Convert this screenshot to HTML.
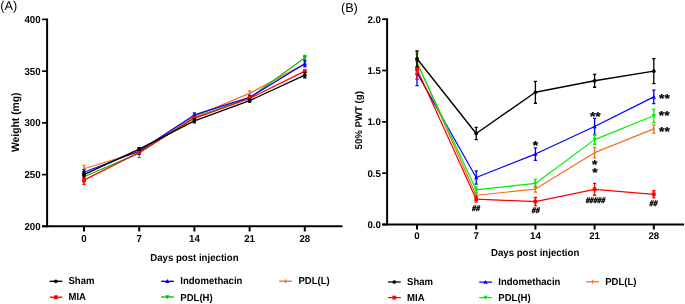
<!DOCTYPE html>
<html><head><meta charset="utf-8"><style>
html,body{margin:0;padding:0;background:#fff;}
body{width:685px;height:304px;overflow:hidden;}
svg{display:block;will-change:transform;}
text{font-family:"Liberation Sans",sans-serif;text-rendering:geometricPrecision;fill:#000;}
.tk{font-size:9.7px;font-weight:bold;}
.tt{font-size:9.63px;font-weight:bold;}
.ttA{font-size:10.35px;font-weight:bold;}
.lg{font-size:9.55px;font-weight:bold;}
.pl{font-size:12.73px;}
.an{font-size:13.8px;font-weight:bold;}
.hs{font-size:7px;font-weight:bold;font-style:italic;}
</style></head><body>
<svg width="685" height="304" viewBox="0 0 685 304">
<rect width="685" height="304" fill="#fff"/>
<text transform="translate(0.28 10.10)" class="pl">(A)</text>
<line x1="47.1" y1="18.55" x2="47.1" y2="227.20" stroke="#000" stroke-width="2"/>
<line x1="42.1" y1="226.35" x2="342.5" y2="226.35" stroke="#000" stroke-width="2"/>
<line x1="42.1" y1="226.35" x2="47.1" y2="226.35" stroke="#000" stroke-width="1.7"/>
<text transform="translate(40.60 229.95) scale(1.0 1.04)" text-anchor="end" class="tk">200</text>
<line x1="42.1" y1="174.61" x2="47.1" y2="174.61" stroke="#000" stroke-width="1.7"/>
<text transform="translate(40.60 178.21) scale(1.0 1.04)" text-anchor="end" class="tk">250</text>
<line x1="42.1" y1="122.88" x2="47.1" y2="122.88" stroke="#000" stroke-width="1.7"/>
<text transform="translate(40.60 126.47) scale(1.0 1.04)" text-anchor="end" class="tk">300</text>
<line x1="42.1" y1="71.14" x2="47.1" y2="71.14" stroke="#000" stroke-width="1.7"/>
<text transform="translate(40.60 74.74) scale(1.0 1.04)" text-anchor="end" class="tk">350</text>
<line x1="42.1" y1="19.40" x2="47.1" y2="19.40" stroke="#000" stroke-width="1.7"/>
<text transform="translate(40.60 23.00) scale(1.0 1.04)" text-anchor="end" class="tk">400</text>
<line x1="84.00" y1="226.35" x2="84.00" y2="231.45" stroke="#000" stroke-width="2"/>
<text transform="translate(84.00 241.60) scale(1.0 1.04)" text-anchor="middle" class="tk">0</text>
<line x1="139.20" y1="226.35" x2="139.20" y2="231.45" stroke="#000" stroke-width="2"/>
<text transform="translate(139.20 241.60) scale(1.0 1.04)" text-anchor="middle" class="tk">7</text>
<line x1="194.40" y1="226.35" x2="194.40" y2="231.45" stroke="#000" stroke-width="2"/>
<text transform="translate(194.40 241.60) scale(1.0 1.04)" text-anchor="middle" class="tk">14</text>
<line x1="249.60" y1="226.35" x2="249.60" y2="231.45" stroke="#000" stroke-width="2"/>
<text transform="translate(249.60 241.60) scale(1.0 1.04)" text-anchor="middle" class="tk">21</text>
<line x1="304.80" y1="226.35" x2="304.80" y2="231.45" stroke="#000" stroke-width="2"/>
<text transform="translate(304.80 241.60) scale(1.0 1.04)" text-anchor="middle" class="tk">28</text>
<text transform="translate(194.40 261.20) scale(1.0 1.05)" text-anchor="middle" class="tt">Days post injection</text>
<text transform="translate(19.20 122.25) rotate(-90) scale(1.0 1.04)" text-anchor="middle" class="ttA">Weight (mg)</text>
<text transform="translate(340.90 12.10)" class="pl">(B)</text>
<line x1="387.1" y1="18.35" x2="387.1" y2="225.35" stroke="#000" stroke-width="2"/>
<line x1="382.1" y1="224.5" x2="684.1" y2="224.5" stroke="#000" stroke-width="2"/>
<line x1="382.1" y1="224.50" x2="387.1" y2="224.50" stroke="#000" stroke-width="1.7"/>
<text transform="translate(380.90 228.10)" text-anchor="end" class="tk">0.0</text>
<line x1="382.1" y1="173.18" x2="387.1" y2="173.18" stroke="#000" stroke-width="1.7"/>
<text transform="translate(380.90 176.78)" text-anchor="end" class="tk">0.5</text>
<line x1="382.1" y1="121.85" x2="387.1" y2="121.85" stroke="#000" stroke-width="1.7"/>
<text transform="translate(380.90 125.45)" text-anchor="end" class="tk">1.0</text>
<line x1="382.1" y1="70.52" x2="387.1" y2="70.52" stroke="#000" stroke-width="1.7"/>
<text transform="translate(380.90 74.12)" text-anchor="end" class="tk">1.5</text>
<line x1="382.1" y1="19.20" x2="387.1" y2="19.20" stroke="#000" stroke-width="1.7"/>
<text transform="translate(380.90 22.80)" text-anchor="end" class="tk">2.0</text>
<line x1="417.00" y1="224.5" x2="417.00" y2="229.6" stroke="#000" stroke-width="2"/>
<text transform="translate(417.00 239.30)" text-anchor="middle" class="tk">0</text>
<line x1="476.20" y1="224.5" x2="476.20" y2="229.6" stroke="#000" stroke-width="2"/>
<text transform="translate(476.20 239.30)" text-anchor="middle" class="tk">7</text>
<line x1="535.40" y1="224.5" x2="535.40" y2="229.6" stroke="#000" stroke-width="2"/>
<text transform="translate(535.40 239.30)" text-anchor="middle" class="tk">14</text>
<line x1="594.60" y1="224.5" x2="594.60" y2="229.6" stroke="#000" stroke-width="2"/>
<text transform="translate(594.60 239.30)" text-anchor="middle" class="tk">21</text>
<line x1="653.80" y1="224.5" x2="653.80" y2="229.6" stroke="#000" stroke-width="2"/>
<text transform="translate(653.80 239.30)" text-anchor="middle" class="tk">28</text>
<text transform="translate(535.15 256.20) scale(1.0 1.05)" text-anchor="middle" class="tt">Days post injection</text>
<text transform="translate(361.50 120.30) rotate(-90) scale(1.0 1.02)" text-anchor="middle" class="tt">50% PWT (g)</text>
<path d="M84.00 165.30V172.13M82.40 165.30h3.2M82.40 172.13h3.2" stroke="#f36f21" stroke-width="1.3" fill="none"/>
<path d="M139.20 149.78V153.92M137.60 149.78h3.2M137.60 153.92h3.2" stroke="#f36f21" stroke-width="1.3" fill="none"/>
<path d="M194.40 114.29V118.43M192.80 114.29h3.2M192.80 118.43h3.2" stroke="#f36f21" stroke-width="1.3" fill="none"/>
<path d="M249.60 90.80V95.97M248.00 90.80h3.2M248.00 95.97h3.2" stroke="#f36f21" stroke-width="1.3" fill="none"/>
<path d="M304.80 62.34V65.45M303.20 62.34h3.2M303.20 65.45h3.2" stroke="#f36f21" stroke-width="1.3" fill="none"/>
<polyline points="84.00,168.71 139.20,151.85 194.40,116.36 249.60,93.38 304.80,63.89" fill="none" stroke="#f36f21" stroke-width="1.2" stroke-linejoin="round"/>
<line x1="84.00" y1="166.91" x2="84.00" y2="170.51" stroke="#f36f21" stroke-width="1.3"/>
<line x1="139.20" y1="150.05" x2="139.20" y2="153.65" stroke="#f36f21" stroke-width="1.3"/>
<line x1="194.40" y1="114.56" x2="194.40" y2="118.16" stroke="#f36f21" stroke-width="1.3"/>
<line x1="249.60" y1="91.58" x2="249.60" y2="95.18" stroke="#f36f21" stroke-width="1.3"/>
<line x1="304.80" y1="62.09" x2="304.80" y2="65.69" stroke="#f36f21" stroke-width="1.3"/>
<path d="M84.00 171.51V181.86M82.40 171.51h3.2M82.40 181.86h3.2" stroke="#00c000" stroke-width="1.3" fill="none"/>
<path d="M139.20 148.54V157.64M137.60 148.54h3.2M137.60 157.64h3.2" stroke="#00c000" stroke-width="1.3" fill="none"/>
<path d="M194.40 115.22V119.36M192.80 115.22h3.2M192.80 119.36h3.2" stroke="#00c000" stroke-width="1.3" fill="none"/>
<path d="M249.60 95.97V100.11M248.00 95.97h3.2M248.00 100.11h3.2" stroke="#00c000" stroke-width="1.3" fill="none"/>
<path d="M304.80 55.41V59.96M303.20 55.41h3.2M303.20 59.96h3.2" stroke="#00c000" stroke-width="1.3" fill="none"/>
<polyline points="84.00,176.68 139.20,153.09 194.40,117.29 249.60,98.04 304.80,57.69" fill="none" stroke="#00c000" stroke-width="1.2" stroke-linejoin="round"/>
<polygon points="84.00,178.88 86.20,174.92 81.80,174.92" fill="#00c000"/>
<polygon points="139.20,155.29 141.40,151.33 137.00,151.33" fill="#00c000"/>
<polygon points="194.40,119.49 196.60,115.53 192.20,115.53" fill="#00c000"/>
<polygon points="249.60,100.24 251.80,96.28 247.40,96.28" fill="#00c000"/>
<polygon points="304.80,59.89 307.00,55.93 302.60,55.93" fill="#00c000"/>
<path d="M84.00 169.65V174.82M82.40 169.65h3.2M82.40 174.82h3.2" stroke="#0000ff" stroke-width="1.3" fill="none"/>
<path d="M139.20 147.61V154.43M137.60 147.61h3.2M137.60 154.43h3.2" stroke="#0000ff" stroke-width="1.3" fill="none"/>
<path d="M194.40 112.84V116.98M192.80 112.84h3.2M192.80 116.98h3.2" stroke="#0000ff" stroke-width="1.3" fill="none"/>
<path d="M249.60 95.35V99.49M248.00 95.35h3.2M248.00 99.49h3.2" stroke="#0000ff" stroke-width="1.3" fill="none"/>
<path d="M304.80 60.58V66.79M303.20 60.58h3.2M303.20 66.79h3.2" stroke="#0000ff" stroke-width="1.3" fill="none"/>
<polyline points="84.00,172.23 139.20,151.02 194.40,114.91 249.60,97.42 304.80,63.69" fill="none" stroke="#0000ff" stroke-width="1.2" stroke-linejoin="round"/>
<polygon points="84.00,170.03 86.20,173.99 81.80,173.99" fill="#0000ff"/>
<polygon points="139.20,148.82 141.40,152.78 137.00,152.78" fill="#0000ff"/>
<polygon points="194.40,112.71 196.60,116.67 192.20,116.67" fill="#0000ff"/>
<polygon points="249.60,95.22 251.80,99.18 247.40,99.18" fill="#0000ff"/>
<polygon points="304.80,61.49 307.00,65.45 302.60,65.45" fill="#0000ff"/>
<path d="M84.00 175.96V184.24M82.40 175.96h3.2M82.40 184.24h3.2" stroke="#ff0000" stroke-width="1.3" fill="none"/>
<path d="M139.20 151.23V153.71M137.60 151.23h3.2M137.60 153.71h3.2" stroke="#ff0000" stroke-width="1.3" fill="none"/>
<path d="M194.40 116.25V120.39M192.80 116.25h3.2M192.80 120.39h3.2" stroke="#ff0000" stroke-width="1.3" fill="none"/>
<path d="M249.60 96.49V100.63M248.00 96.49h3.2M248.00 100.63h3.2" stroke="#ff0000" stroke-width="1.3" fill="none"/>
<path d="M304.80 70.10V72.17M303.20 70.10h3.2M303.20 72.17h3.2" stroke="#ff0000" stroke-width="1.3" fill="none"/>
<polyline points="84.00,180.10 139.20,152.47 194.40,118.32 249.60,98.56 304.80,71.14" fill="none" stroke="#ff0000" stroke-width="1.2" stroke-linejoin="round"/>
<rect x="82.10" y="178.20" width="3.80" height="3.80" fill="#ff0000"/>
<rect x="137.30" y="150.57" width="3.80" height="3.80" fill="#ff0000"/>
<rect x="192.50" y="116.42" width="3.80" height="3.80" fill="#ff0000"/>
<rect x="247.70" y="96.66" width="3.80" height="3.80" fill="#ff0000"/>
<rect x="302.90" y="69.24" width="3.80" height="3.80" fill="#ff0000"/>
<path d="M84.00 172.03V177.20M82.40 172.03h3.2M82.40 177.20h3.2" stroke="#000000" stroke-width="1.3" fill="none"/>
<path d="M139.20 148.23V150.09M137.60 148.23h3.2M137.60 150.09h3.2" stroke="#000000" stroke-width="1.3" fill="none"/>
<path d="M194.40 118.74V122.88M192.80 118.74h3.2M192.80 122.88h3.2" stroke="#000000" stroke-width="1.3" fill="none"/>
<path d="M249.60 99.08V102.18M248.00 99.08h3.2M248.00 102.18h3.2" stroke="#000000" stroke-width="1.3" fill="none"/>
<path d="M304.80 72.59V77.76M303.20 72.59h3.2M303.20 77.76h3.2" stroke="#000000" stroke-width="1.3" fill="none"/>
<polyline points="84.00,174.61 139.20,149.16 194.40,120.81 249.60,100.63 304.80,75.17" fill="none" stroke="#000000" stroke-width="1.3" stroke-linejoin="round"/>
<circle cx="84.00" cy="174.61" r="1.85" fill="#000000"/>
<circle cx="139.20" cy="149.16" r="1.85" fill="#000000"/>
<circle cx="194.40" cy="120.81" r="1.85" fill="#000000"/>
<circle cx="249.60" cy="100.63" r="1.85" fill="#000000"/>
<circle cx="304.80" cy="75.17" r="1.85" fill="#000000"/>
<path d="M417.00 60.16V85.61M415.40 60.16h3.2M415.40 85.61h3.2" stroke="#0000ff" stroke-width="1.3" fill="none"/>
<path d="M476.20 170.81V184.16M474.60 170.81h3.2M474.60 184.16h3.2" stroke="#0000ff" stroke-width="1.3" fill="none"/>
<path d="M535.40 147.82V160.34M533.80 147.82h3.2M533.80 160.34h3.2" stroke="#0000ff" stroke-width="1.3" fill="none"/>
<path d="M594.60 118.46V134.48M593.00 118.46h3.2M593.00 134.48h3.2" stroke="#0000ff" stroke-width="1.3" fill="none"/>
<path d="M653.80 90.13V103.68M652.20 90.13h3.2M652.20 103.68h3.2" stroke="#0000ff" stroke-width="1.3" fill="none"/>
<polyline points="417.00,72.89 476.20,177.49 535.40,154.08 594.60,126.47 653.80,96.91" fill="none" stroke="#0000ff" stroke-width="1.2" stroke-linejoin="round"/>
<polygon points="417.00,70.69 419.20,74.65 414.80,74.65" fill="#0000ff"/>
<polygon points="476.20,175.29 478.40,179.25 474.00,179.25" fill="#0000ff"/>
<polygon points="535.40,151.88 537.60,155.84 533.20,155.84" fill="#0000ff"/>
<polygon points="594.60,124.27 596.80,128.23 592.40,128.23" fill="#0000ff"/>
<polygon points="653.80,94.71 656.00,98.67 651.60,98.67" fill="#0000ff"/>
<path d="M417.00 52.05V72.58M415.40 52.05h3.2M415.40 72.58h3.2" stroke="#f36f21" stroke-width="1.3" fill="none"/>
<path d="M476.20 193.19V197.30M474.60 193.19h3.2M474.60 197.30h3.2" stroke="#f36f21" stroke-width="1.3" fill="none"/>
<path d="M535.40 186.01V192.17M533.80 186.01h3.2M533.80 192.17h3.2" stroke="#f36f21" stroke-width="1.3" fill="none"/>
<path d="M594.60 147.51V157.78M593.00 147.51h3.2M593.00 157.78h3.2" stroke="#f36f21" stroke-width="1.3" fill="none"/>
<path d="M653.80 124.83V133.04M652.20 124.83h3.2M652.20 133.04h3.2" stroke="#f36f21" stroke-width="1.3" fill="none"/>
<polyline points="417.00,62.31 476.20,195.24 535.40,189.09 594.60,152.64 653.80,128.93" fill="none" stroke="#f36f21" stroke-width="1.2" stroke-linejoin="round"/>
<line x1="417.00" y1="60.51" x2="417.00" y2="64.11" stroke="#f36f21" stroke-width="1.3"/>
<line x1="476.20" y1="193.44" x2="476.20" y2="197.04" stroke="#f36f21" stroke-width="1.3"/>
<line x1="535.40" y1="187.29" x2="535.40" y2="190.89" stroke="#f36f21" stroke-width="1.3"/>
<line x1="594.60" y1="150.84" x2="594.60" y2="154.44" stroke="#f36f21" stroke-width="1.3"/>
<line x1="653.80" y1="127.13" x2="653.80" y2="130.73" stroke="#f36f21" stroke-width="1.3"/>
<path d="M417.00 54.31V70.73M415.40 54.31h3.2M415.40 70.73h3.2" stroke="#00ee00" stroke-width="1.3" fill="none"/>
<path d="M476.20 186.83V192.99M474.60 186.83h3.2M474.60 192.99h3.2" stroke="#00ee00" stroke-width="1.3" fill="none"/>
<path d="M535.40 179.33V187.55M533.80 179.33h3.2M533.80 187.55h3.2" stroke="#00ee00" stroke-width="1.3" fill="none"/>
<path d="M594.60 134.99V144.23M593.00 134.99h3.2M593.00 144.23h3.2" stroke="#00ee00" stroke-width="1.3" fill="none"/>
<path d="M653.80 109.12V122.47M652.20 109.12h3.2M652.20 122.47h3.2" stroke="#00ee00" stroke-width="1.3" fill="none"/>
<polyline points="417.00,62.52 476.20,189.91 535.40,183.44 594.60,139.61 653.80,115.79" fill="none" stroke="#00ee00" stroke-width="1.2" stroke-linejoin="round"/>
<polygon points="417.00,64.72 419.20,60.76 414.80,60.76" fill="#00ee00"/>
<polygon points="476.20,192.11 478.40,188.15 474.00,188.15" fill="#00ee00"/>
<polygon points="535.40,185.64 537.60,181.68 533.20,181.68" fill="#00ee00"/>
<polygon points="594.60,141.81 596.80,137.85 592.40,137.85" fill="#00ee00"/>
<polygon points="653.80,117.99 656.00,114.03 651.60,114.03" fill="#00ee00"/>
<path d="M417.00 58.72V79.25M415.40 58.72h3.2M415.40 79.25h3.2" stroke="#ff0000" stroke-width="1.3" fill="none"/>
<path d="M476.20 196.07V202.22M474.60 196.07h3.2M474.60 202.22h3.2" stroke="#ff0000" stroke-width="1.3" fill="none"/>
<path d="M535.40 197.50V205.72M533.80 197.50h3.2M533.80 205.72h3.2" stroke="#ff0000" stroke-width="1.3" fill="none"/>
<path d="M594.60 183.34V195.24M593.00 183.34h3.2M593.00 195.24h3.2" stroke="#ff0000" stroke-width="1.3" fill="none"/>
<path d="M653.80 190.73V197.91M652.20 190.73h3.2M652.20 197.91h3.2" stroke="#ff0000" stroke-width="1.3" fill="none"/>
<polyline points="417.00,68.99 476.20,199.15 535.40,201.61 594.60,189.29 653.80,194.32" fill="none" stroke="#ff0000" stroke-width="1.2" stroke-linejoin="round"/>
<rect x="415.10" y="67.09" width="3.80" height="3.80" fill="#ff0000"/>
<rect x="474.30" y="197.25" width="3.80" height="3.80" fill="#ff0000"/>
<rect x="533.50" y="199.71" width="3.80" height="3.80" fill="#ff0000"/>
<rect x="592.70" y="187.39" width="3.80" height="3.80" fill="#ff0000"/>
<rect x="651.90" y="192.42" width="3.80" height="3.80" fill="#ff0000"/>
<path d="M417.00 50.82V66.62M415.40 50.82h3.2M415.40 66.62h3.2" stroke="#000000" stroke-width="1.3" fill="none"/>
<path d="M476.20 127.29V139.61M474.60 127.29h3.2M474.60 139.61h3.2" stroke="#000000" stroke-width="1.3" fill="none"/>
<path d="M535.40 81.30V103.27M533.80 81.30h3.2M533.80 103.27h3.2" stroke="#000000" stroke-width="1.3" fill="none"/>
<path d="M594.60 74.32V87.26M593.00 74.32h3.2M593.00 87.26h3.2" stroke="#000000" stroke-width="1.3" fill="none"/>
<path d="M653.80 58.62V83.66M652.20 58.62h3.2M652.20 83.66h3.2" stroke="#000000" stroke-width="1.3" fill="none"/>
<polyline points="417.00,58.72 476.20,133.45 535.40,92.29 594.60,80.79 653.80,71.14" fill="none" stroke="#000000" stroke-width="1.4" stroke-linejoin="round"/>
<circle cx="417.00" cy="58.72" r="1.85" fill="#000000"/>
<circle cx="476.20" cy="133.45" r="1.85" fill="#000000"/>
<circle cx="535.40" cy="92.29" r="1.85" fill="#000000"/>
<circle cx="594.60" cy="80.79" r="1.85" fill="#000000"/>
<circle cx="653.80" cy="71.14" r="1.85" fill="#000000"/>
<text transform="translate(475.75 211.35) scale(1.0 1.18) skewX(-8)" text-anchor="middle" class="hs" stroke="#000" stroke-width="0.35">##</text>
<text transform="translate(535.45 213.45) scale(1.0 1.18) skewX(-8)" text-anchor="middle" class="hs" stroke="#000" stroke-width="0.35">##</text>
<text transform="translate(595.15 202.70) scale(1.0 1.18) skewX(-8)" text-anchor="middle" class="hs" stroke="#000" stroke-width="0.35">#####</text>
<text transform="translate(653.20 205.75) scale(1.0 1.18) skewX(-8)" text-anchor="middle" class="hs" stroke="#000" stroke-width="0.35">##</text>
<text transform="translate(535.45 149.60) scale(1.0 0.95)" text-anchor="middle" class="an" stroke="#000" stroke-width="0.2">*</text>
<text transform="translate(595.35 120.95) scale(1.0 0.95)" text-anchor="middle" class="an" stroke="#000" stroke-width="0.2">**</text>
<text transform="translate(594.65 168.75) scale(1.0 0.95)" text-anchor="middle" class="an" stroke="#000" stroke-width="0.2">*</text>
<text transform="translate(594.90 177.30) scale(1.0 0.95)" text-anchor="middle" class="an" stroke="#000" stroke-width="0.2">*</text>
<text transform="translate(664.45 102.95) scale(1.0 0.95)" text-anchor="middle" class="an" stroke="#000" stroke-width="0.2">**</text>
<text transform="translate(664.20 120.40) scale(1.0 0.95)" text-anchor="middle" class="an" stroke="#000" stroke-width="0.2">**</text>
<text transform="translate(664.45 136.30) scale(1.0 0.95)" text-anchor="middle" class="an" stroke="#000" stroke-width="0.2">**</text>
<line x1="49.6" y1="281.3" x2="62.400000000000006" y2="281.3" stroke="#000000" stroke-width="1.35"/>
<circle cx="55.90" cy="281.30" r="1.85" fill="#000000"/>
<text transform="translate(68.50 284.30) scale(1.0 1.05)" class="lg">Sham</text>
<line x1="49.6" y1="297.2" x2="62.400000000000006" y2="297.2" stroke="#ff0000" stroke-width="1.35"/>
<rect x="54.00" y="295.30" width="3.80" height="3.80" fill="#ff0000"/>
<text transform="translate(68.50 300.45) scale(1.0 1.05)" class="lg">MIA</text>
<line x1="161.1" y1="281.3" x2="173.9" y2="281.3" stroke="#0000ff" stroke-width="1.35"/>
<polygon points="167.40,279.10 169.60,283.06 165.20,283.06" fill="#0000ff"/>
<text transform="translate(180.30 284.30) scale(1.0 1.05)" class="lg">Indomethacin</text>
<line x1="161.1" y1="297.0" x2="173.9" y2="297.0" stroke="#00c000" stroke-width="1.35"/>
<polygon points="167.40,299.20 169.60,295.24 165.20,295.24" fill="#00c000"/>
<text transform="translate(180.30 300.50) scale(1.0 1.05)" class="lg">PDL(H)</text>
<line x1="279.2" y1="281.2" x2="292.0" y2="281.2" stroke="#f36f21" stroke-width="1.35"/>
<line x1="285.50" y1="279.40" x2="285.50" y2="283.00" stroke="#f36f21" stroke-width="1.3"/>
<text transform="translate(298.40 284.30) scale(1.0 1.05)" class="lg">PDL(L)</text>
<line x1="388.0" y1="282.0" x2="400.8" y2="282.0" stroke="#000000" stroke-width="1.25"/>
<circle cx="394.30" cy="282.00" r="1.85" fill="#000000"/>
<text transform="translate(407.10 285.10) scale(1.0 1.05)" class="lg">Sham</text>
<line x1="388.0" y1="297.6" x2="400.8" y2="297.6" stroke="#ff0000" stroke-width="1.25"/>
<rect x="392.40" y="295.70" width="3.80" height="3.80" fill="#ff0000"/>
<text transform="translate(407.10 300.80) scale(1.0 1.05)" class="lg">MIA</text>
<line x1="479.2" y1="282.1" x2="492.0" y2="282.1" stroke="#0000ff" stroke-width="1.25"/>
<polygon points="485.50,279.90 487.70,283.86 483.30,283.86" fill="#0000ff"/>
<text transform="translate(498.30 285.30) scale(1.0 1.05)" class="lg">Indomethacin</text>
<line x1="479.2" y1="297.6" x2="492.0" y2="297.6" stroke="#00ee00" stroke-width="1.25"/>
<polygon points="485.50,299.80 487.70,295.84 483.30,295.84" fill="#00ee00"/>
<text transform="translate(498.30 300.80) scale(1.0 1.05)" class="lg">PDL(H)</text>
<line x1="586.2" y1="281.8" x2="599.0" y2="281.8" stroke="#f36f21" stroke-width="1.25"/>
<line x1="592.50" y1="280.00" x2="592.50" y2="283.60" stroke="#f36f21" stroke-width="1.3"/>
<text transform="translate(605.20 285.30) scale(1.0 1.05)" class="lg">PDL(L)</text>
</svg>
</body></html>
